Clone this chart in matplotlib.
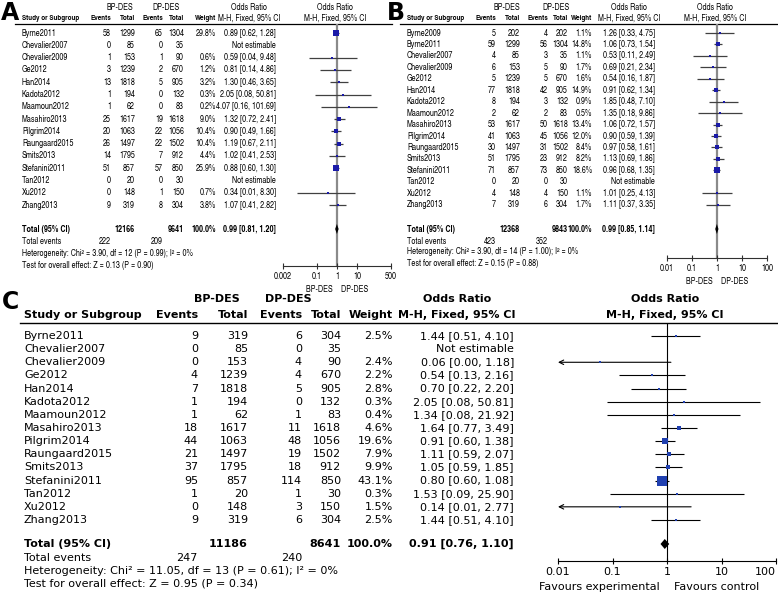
import numpy as np
import matplotlib.pyplot as plt
from matplotlib.font_manager import FontProperties
from matplotlib.textpath import TextPath
from matplotlib.ticker import NullLocator
from matplotlib.transforms import blended_transform_factory

# ---- data: panel A ----
studies_a = ["Byrne2011", "Chevalier2007", "Chevalier2009", "Ge2012", "Han2014", "Kadota2012",
             "Maamoun2012", "Masahiro2013", "Pilgrim2014", "Raungaard2015", "Smits2013",
             "Stefanini2011", "Tan2012", "Xu2012", "Zhang2013"]
bp_ev_a = [58, 0, 1, 3, 13, 1, 1, 25, 20, 26, 14, 51, 0, 0, 9]
bp_tot_a = [1299, 85, 153, 1239, 1818, 194, 62, 1617, 1063, 1497, 1795, 857, 20, 148, 319]
dp_ev_a = [65, 0, 1, 2, 5, 0, 0, 19, 22, 22, 7, 57, 0, 1, 8]
dp_tot_a = [1304, 35, 90, 670, 905, 132, 83, 1618, 1056, 1502, 912, 850, 30, 150, 304]
weight_a = [29.8, None, 0.6, 1.2, 3.2, 0.3, 0.2, 9.0, 10.4, 10.4, 4.4, 25.9, None, 0.7, 3.8]
or_a = [0.89, None, 0.59, 0.81, 1.30, 2.05, 4.07, 1.32, 0.90, 1.19, 1.02, 0.88, None, 0.34, 1.07]
lo_a = [0.62, None, 0.04, 0.14, 0.46, 0.08, 0.16, 0.72, 0.49, 0.67, 0.41, 0.60, None, 0.01, 0.41]
hi_a = [1.28, None, 9.48, 4.86, 3.65, 50.81, 101.69, 2.41, 1.66, 2.11, 2.53, 1.30, None, 8.30, 2.82]
total_a = dict(bp_tot=12166, dp_tot=9641, orv=0.99, lo=0.81, hi=1.20, bp_ev=222, dp_ev=209,
               het="Heterogeneity: Chi\u00b2 = 3.90, df = 12 (P = 0.99); I\u00b2 = 0%",
               test="Test for overall effect: Z = 0.13 (P = 0.90)")

# ---- data: panel B ----
studies_b = ["Byrne2009"] + studies_a
bp_ev_b = [5, 59, 4, 6, 5, 77, 8, 2, 53, 41, 30, 51, 71, 0, 4, 7]
bp_tot_b = [202, 1299, 85, 153, 1239, 1818, 194, 62, 1617, 1063, 1497, 1795, 857, 20, 148, 319]
dp_ev_b = [4, 56, 3, 5, 5, 42, 3, 2, 50, 45, 31, 23, 73, 0, 4, 6]
dp_tot_b = [202, 1304, 35, 90, 670, 905, 132, 83, 1618, 1056, 1502, 912, 850, 30, 150, 304]
weight_b = [1.1, 14.8, 1.1, 1.7, 1.6, 14.9, 0.9, 0.5, 13.4, 12.0, 8.4, 8.2, 18.6, None, 1.1, 1.7]
or_b = [1.26, 1.06, 0.53, 0.69, 0.54, 0.91, 1.85, 1.35, 1.06, 0.90, 0.97, 1.13, 0.96, None, 1.01, 1.11]
lo_b = [0.33, 0.73, 0.11, 0.21, 0.16, 0.62, 0.48, 0.18, 0.72, 0.59, 0.58, 0.69, 0.68, None, 0.25, 0.37]
hi_b = [4.75, 1.54, 2.49, 2.34, 1.87, 1.34, 7.10, 9.86, 1.57, 1.39, 1.61, 1.86, 1.35, None, 4.13, 3.35]
total_b = dict(bp_tot=12368, dp_tot=9843, orv=0.99, lo=0.85, hi=1.14, bp_ev=423, dp_ev=352,
               het="Heterogeneity: Chi\u00b2 = 3.90, df = 14 (P = 1.00); I\u00b2 = 0%",
               test="Test for overall effect: Z = 0.15 (P = 0.88)")

# ---- data: panel C ----
studies_c = studies_a
bp_ev_c = [9, 0, 0, 4, 7, 1, 1, 18, 44, 21, 37, 95, 1, 0, 9]
bp_tot_c = [319, 85, 153, 1239, 1818, 194, 62, 1617, 1063, 1497, 1795, 857, 20, 148, 319]
dp_ev_c = [6, 0, 4, 4, 5, 0, 1, 11, 48, 19, 18, 114, 1, 3, 6]
dp_tot_c = [304, 35, 90, 670, 905, 132, 83, 1618, 1056, 1502, 912, 850, 30, 150, 304]
weight_c = [2.5, None, 2.4, 2.2, 2.8, 0.3, 0.4, 4.6, 19.6, 7.9, 9.9, 43.1, 0.3, 1.5, 2.5]
or_c = [1.44, None, 0.06, 0.54, 0.70, 2.05, 1.34, 1.64, 0.91, 1.11, 1.05, 0.80, 1.53, 0.14, 1.44]
lo_c = [0.51, None, 0.00, 0.13, 0.22, 0.08, 0.08, 0.77, 0.60, 0.59, 0.59, 0.60, 0.09, 0.01, 0.51]
hi_c = [4.10, None, 1.18, 2.16, 2.20, 50.81, 21.92, 3.49, 1.38, 2.07, 1.85, 1.08, 25.90, 2.77, 4.10]
total_c = dict(bp_tot=11186, dp_tot=8641, orv=0.91, lo=0.76, hi=1.10, bp_ev=247, dp_ev=240,
               het="Heterogeneity: Chi\u00b2 = 11.05, df = 13 (P = 0.61); I\u00b2 = 0%",
               test="Test for overall effect: Z = 0.95 (P = 0.34)")

ticks_ab = [[0.002, 0.1, 1, 10, 500], [0.01, 0.1, 1, 10, 100]]
tick_labels_ab = [["0.002", "0.1", "1", "10", "500"], ["0.01", "0.1", "1", "10", "100"]]
ticks_c = [0.01, 0.1, 1, 10, 100]
tick_labels_c = ["0.01", "0.1", "1", "10", "100"]

W, H = 778, 593

# condensed Helvetica clone for A and B (the originals use Arial Narrow)
NARROW = ['TeX Gyre Heros Cn', 'Liberation Sans']
nar_reg = FontProperties(family=NARROW)
nar_bold = FontProperties(family=NARROW, weight='bold')
nar_head = FontProperties(family=NARROW, weight='bold')
# size so that the heterogeneity line is about as wide as in the reference
w10 = TextPath((0, 0), total_a['het'], size=10, prop=nar_reg).get_extents().width
fs_ab = float(np.clip(10 * 170 * 0.72 / w10, 4.8, 7.0))
nar_reg.set_size(fs_ab)
nar_bold.set_size(fs_ab)
nar_head.set_size(fs_ab * 0.88)
wide_reg = FontProperties(family='DejaVu Sans', size=8)
wide_bold = FontProperties(family='DejaVu Sans', size=8, weight='bold')

fig = plt.figure(figsize=(W / 100, H / 100), dpi=100)
bg = fig.add_axes([0, 0, 1, 1])
bg.set_xlim(0, W)
bg.set_ylim(H, 0)
bg.axis('off')


def px_axes(x0, y0, x1, y1):
    return fig.add_axes([x0 / W, 1 - y1 / H, (x1 - x0) / W, (y1 - y0) / H])


def draw_panel(L, studies, bp_ev, bp_tot, dp_ev, dp_tot, weight, orv, lo, hi, tot):
    freg, fbold, fhead = L['font']

    def txt(x, y, s, ha='left', bold=False, fp=None):
        if fp is None:
            fp = fbold if bold else freg
        bg.text(x, y, s, ha=ha, va='center', fontproperties=fp)

    bg.text(L['letter_xy'][0], L['letter_xy'][1], L['letter'], ha='left', va='top',
            fontsize=L['letter_fs'], fontweight='bold', family='DejaVu Sans')
    hfp = fhead if L['head_bold'] else freg
    y1, y2 = L['hy']
    txt(L['bp_head'], y1, "BP-DES", 'center', fp=hfp)
    txt(L['dp_head'], y1, "DP-DES", 'center', fp=hfp)
    txt(L['or_head'], y1, "Odds Ratio", 'center', fp=hfp)
    txt(L['fp_head'], y1, "Odds Ratio", 'center', fp=hfp)
    cx = L['cols']
    txt(cx[0], y2, "Study or Subgroup", 'left', fp=fhead)
    txt(cx[1], y2, "Events", 'right', fp=fhead)
    txt(cx[2], y2, "Total", 'right', fp=fhead)
    txt(cx[3], y2, "Events", 'right', fp=fhead)
    txt(cx[4], y2, "Total", 'right', fp=fhead)
    txt(cx[5], y2, "Weight", 'right', fp=fhead)
    txt(L['or_head'], y2, "M-H, Fixed, 95% CI", 'center', fp=hfp)
    txt(L['fp_head'], y2, "M-H, Fixed, 95% CI", 'center', fp=hfp)
    bg.plot(L['line_x'], [L['line_y']] * 2, color='black', lw=L['line_lw'])

    ys = [L['row0'] + i * L['dy'] for i in range(len(studies))]
    for i, y in enumerate(ys):
        txt(cx[0], y, studies[i])
        txt(cx[1], y, str(bp_ev[i]), 'right')
        txt(cx[2], y, str(bp_tot[i]), 'right')
        txt(cx[3], y, str(dp_ev[i]), 'right')
        txt(cx[4], y, str(dp_tot[i]), 'right')
        if weight[i] is None:
            txt(cx[6], y, "Not estimable", 'right')
        else:
            txt(cx[5], y, "%.1f%%" % weight[i], 'right')
            txt(cx[6], y, "%.2f [%.2f, %.2f]" % (orv[i], lo[i], hi[i]), 'right')

    yt, ye, yh, yz = L['ty']
    txt(cx[0], yt, "Total (95% CI)", 'left', True)
    txt(cx[2], yt, str(tot['bp_tot']), 'right', True)
    txt(cx[4], yt, str(tot['dp_tot']), 'right', True)
    txt(cx[5], yt, "100.0%", 'right', True)
    txt(cx[6], yt, "%.2f [%.2f, %.2f]" % (tot['orv'], tot['lo'], tot['hi']), 'right', True)
    txt(cx[0], ye, "Total events")
    txt(cx[1], ye, str(tot['bp_ev']), 'right')
    txt(cx[3], ye, str(tot['dp_ev']), 'right')
    txt(cx[0], yh, tot['het'])
    txt(cx[0], yz, tot['test'])

    # forest plot on a log axis
    fx0, fx1 = L['fx']
    ax = px_axes(fx0, L['line_y'], fx1, L['axis_y'])
    ax.set_xscale('log')
    ax.set_xlim(L['xlim'])
    ax.set_ylim(L['axis_y'], L['line_y'])
    ax.patch.set_alpha(0)
    for s in ['left', 'right', 'top']:
        ax.spines[s].set_visible(False)
    ax.spines['bottom'].set_linewidth(L['ax_lw'])
    ax.spines['bottom'].set_color(L['ax_col'])
    ax.set_yticks([])
    ax.set_xticks(L['ticks'])
    labs = ax.set_xticklabels(L['tick_labels'], fontproperties=freg)
    if L.get('last_right'):
        labs[-1].set_ha('right')
    ax.xaxis.set_minor_locator(NullLocator())
    ax.tick_params(axis='x', direction='inout', length=5, width=L['ax_lw'],
                   color=L['ax_col'], pad=2)
    ax.axvline(1, color=L['vcol'], lw=L['vlw'], zorder=1)
    xmin = L['xlim'][0]
    for i, y in enumerate(ys):
        if weight[i] is None:
            continue
        if lo[i] <= xmin:
            ax.annotate("", xy=(xmin, y), xytext=(hi[i], y),
                        arrowprops=dict(arrowstyle='->', color=L['ci_col'], lw=L['ci_lw'],
                                        shrinkA=0, shrinkB=0, mutation_scale=8))
        else:
            ax.hlines(y, lo[i], hi[i], color=L['ci_col'], lw=L['ci_lw'], zorder=2)
        side = max(L['sq_k'] * np.sqrt(weight[i]), 2.0) * 0.72
        ax.scatter([orv[i]], [y], marker='s', s=side ** 2, color=L['sq_col'],
                   linewidths=0, zorder=3)
    dh = L['dia_h']
    ax.fill([tot['lo'], tot['orv'], tot['hi'], tot['orv']], [yt, yt - dh, yt, yt + dh],
            color='black', zorder=3, lw=0)
    tr = blended_transform_factory(ax.transData, bg.transData)
    bg.text(1, L['lab_y'], L['labels'][0] + "  ", transform=tr, ha='right', va='center',
            fontproperties=freg)
    bg.text(1, L['lab_y'], "  " + L['labels'][1], transform=tr, ha='left', va='center',
            fontproperties=freg)
    return ax


common_ab = dict(font=(nar_reg, nar_bold, nar_head), letter_fs=17, head_bold=False, line_lw=0.9,
                 ax_lw=0.8, ax_col='#303030', vcol='#8a8a8a', vlw=1.6, ci_col='#404040',
                 ci_lw=0.9, sq_col='#1a1aa8', labels=("BP-DES", "DP-DES"))

layout_a = dict(common_ab, letter='A', letter_xy=(1, 1), hy=(7, 18),
                bp_head=120, dp_head=166, or_head=249, fp_head=335,
                cols=[22, 111, 135, 163, 184, 216, 276], line_x=[15, 392], line_y=24,
                row0=33, dy=12.3, ty=(229, 241, 253, 265), fx=(283, 391), axis_y=266,
                xlim=(0.002, 500), ticks=ticks_ab[0], tick_labels=tick_labels_ab[0],
                sq_k=1.1, dia_h=5, lab_y=289)

layout_b = dict(common_ab, letter='B', letter_xy=(387, 1), hy=(7, 18),
                bp_head=507, dp_head=556, or_head=629, fp_head=715,
                cols=[407, 496, 520, 548, 568, 592, 655], line_x=[400, 778], line_y=24,
                row0=33, dy=11.45, ty=(229, 241, 252, 264), fx=(667, 767), axis_y=258,
                xlim=(0.01, 100), ticks=ticks_ab[1], tick_labels=tick_labels_ab[1],
                sq_k=1.2, dia_h=5, lab_y=281)

layout_c = dict(font=(wide_reg, wide_bold, wide_bold), letter_fs=17, head_bold=True, line_lw=1.0,
                ax_lw=0.8, ax_col='black', vcol='black', vlw=0.8, ci_col='black',
                ci_lw=0.8, sq_col='#2040b0', labels=("Favours experimental", "Favours control"),
                letter='C', letter_xy=(2, 290), hy=(299, 315),
                bp_head=217, dp_head=288, or_head=457, fp_head=665,
                cols=[24, 198, 248, 302, 341, 393, 514], line_x=[20, 778], line_y=323,
                row0=336, dy=13.14, ty=(544, 558, 571, 584), fx=(558, 776), axis_y=561,
                xlim=(0.01, 100), ticks=ticks_c, tick_labels=tick_labels_c, last_right=True,
                sq_k=1.5, dia_h=5, lab_y=587)

draw_panel(layout_a, studies_a, bp_ev_a, bp_tot_a, dp_ev_a, dp_tot_a, weight_a, or_a, lo_a, hi_a, total_a)
draw_panel(layout_b, studies_b, bp_ev_b, bp_tot_b, dp_ev_b, dp_tot_b, weight_b, or_b, lo_b, hi_b, total_b)
draw_panel(layout_c, studies_c, bp_ev_c, bp_tot_c, dp_ev_c, dp_tot_c, weight_c, or_c, lo_c, hi_c, total_c)

fig.savefig("out.png", dpi=100)
